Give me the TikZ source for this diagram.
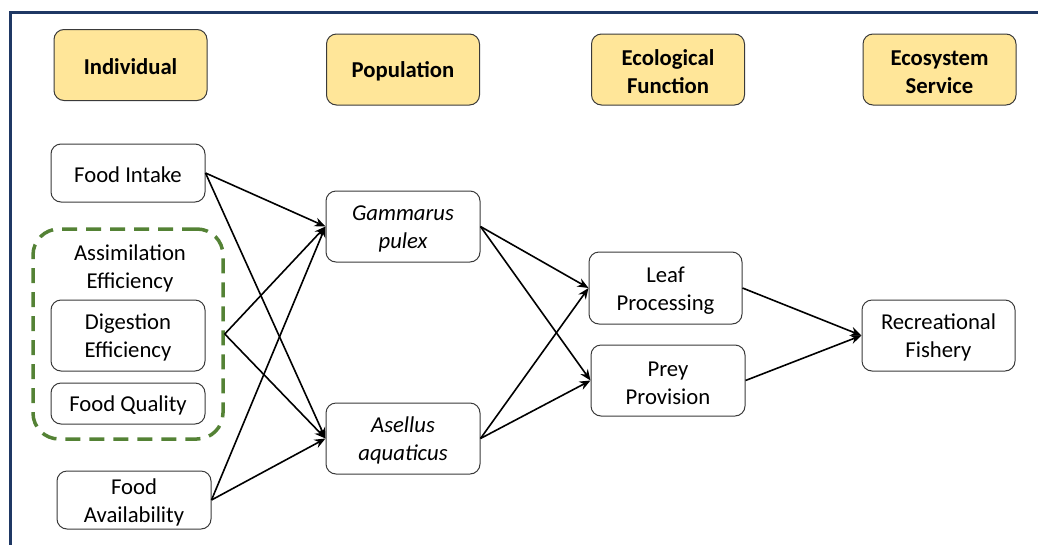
\documentclass[tikz,border=0pt]{standalone}
\usepackage{fontspec}
\setmainfont{Carlito}
\usetikzlibrary{arrows.meta}
\definecolor{framecol}{HTML}{1F3864}
\definecolor{headfill}{HTML}{FFE699}
\definecolor{groupcol}{HTML}{548235}
\definecolor{edgecol}{HTML}{3A3A3A}
% uniform first-line height so every label sits at the same level
\newcommand\firstline{\rule{0pt}{20pt}}
\begin{document}
\begin{tikzpicture}[x=1pt,y=-1pt,
  every node/.style={font=\fontsize{22.7}{28}\selectfont, align=center, inner sep=0pt,
    execute at begin node={\firstline}},
  head/.style={draw=edgecol, line width=1pt, fill=headfill, rounded corners=10pt,
    minimum width=153pt, minimum height=71pt, font=\fontsize{22.7}{28}\selectfont\bfseries},
  item/.style={draw=edgecol, line width=1pt, fill=white, rounded corners=10pt,
    minimum width=154pt},
  group/.style={draw=groupcol, line width=3.5pt, dash pattern=on 15pt off 9pt,
    rounded corners=26pt, minimum width=190pt, minimum height=210pt},
  link/.style={line width=1.6pt, -{Stealth[length=11pt,width=9pt]}}]
\useasboundingbox (0,0) rectangle (1038,544);
% outer frame (left and top edges)
\draw[framecol, line width=3pt] (10.5,560) -- (10.5,12) -- (1050,12);

% level headers
\node[head] (ind) at (130.5,65) {Individual};
\node[head] (pop) at (403,69.5) {Population};
\node[head] (eco) at (668,69.5) {\firstline Ecological\\Function};
\node[head] (ess) at (939.5,69.5) {\firstline Ecosystem\\Service};

% individual level
\node[item, minimum height=58pt] (fi) at (128,173) {Food Intake};
\node[group] (ae) at (128,334) {};
\node (aelab) at (130,266) {\firstline Assimilation\\Efficiency};
\node[item, minimum height=71pt] (de) at (128,335.5) {\firstline Digestion\\Efficiency};
\node[item, minimum height=41pt] (fq) at (128,403.5) {Food Quality};
\node[item, minimum height=58pt] (fa) at (134,500) {\firstline Food\\Availability};

% population level
\node[item, minimum height=71pt] (gp) at (403,226.5) {\firstline\itshape Gammarus\\\itshape pulex};
\node[item, minimum height=71pt] (aa) at (403,438.5) {\firstline\itshape Asellus\\\itshape aquaticus};

% ecological function level
\node[item, minimum width=153pt, minimum height=72pt] (lp) at (665.5,288) {\firstline Leaf\\Processing};
\node[item, minimum height=71pt] (pp) at (668,380.5) {\firstline Prey\\Provision};

% ecosystem service level
\node[item, minimum width=153pt, minimum height=71pt] (rf) at (938.5,335.5) {\firstline Recreational\\Fishery};

% connectors
\draw[link] (fi.east) -- (gp.west);
\draw[link] (fi.east) -- (aa.west);
\draw[link] (ae.east) -- (gp.west);
\draw[link] (ae.east) -- (aa.west);
\draw[link] (fa.east) -- (gp.west);
\draw[link] (fa.east) -- (aa.west);
\draw[link] (gp.east) -- (lp.west);
\draw[link] (gp.east) -- (pp.west);
\draw[link] (aa.east) -- (lp.west);
\draw[link] (aa.east) -- (pp.west);
\draw[link] (lp.east) -- (rf.west);
\draw[link] (pp.east) -- (rf.west);
\end{tikzpicture}
\end{document}
